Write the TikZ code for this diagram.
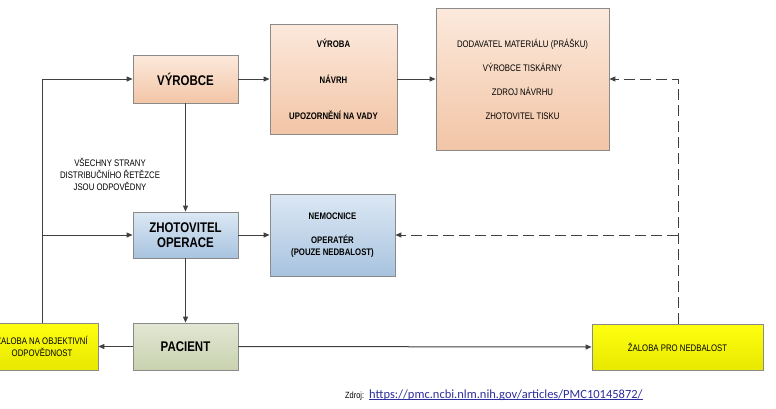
\documentclass[tikz,border=0pt]{standalone}
\usepackage{fontspec}
\setmainfont{Liberation Sans}
\newfontfamily\narfont[FakeStretch=0.82]{Liberation Sans}
\newfontfamily\urlfont{Carlito}
\usetikzlibrary{arrows.meta}
\definecolor{linec}{HTML}{404040}
\definecolor{boxb}{HTML}{8A8A8A}
\definecolor{peachT}{HTML}{FCE9DC}
\definecolor{peachB}{HTML}{F2C5A6}
\definecolor{blueT}{HTML}{DCE8F4}
\definecolor{blueB}{HTML}{A8C3DF}
\definecolor{greenT}{HTML}{E2E7D3}
\definecolor{greenB}{HTML}{C9D2B0}
\definecolor{yelT}{HTML}{FFFF10}
\definecolor{yelB}{HTML}{E8E800}
\definecolor{urlc}{HTML}{2E2E9E}
\tikzset{
  box/.style={draw=boxb, line width=0.8pt, rectangle, inner sep=0pt, align=center, text=black},
  peach/.style={box, top color=peachT, bottom color=peachB},
  blue/.style={box, top color=blueT, bottom color=blueB},
  green/.style={box, top color=greenT, bottom color=greenB},
  yel/.style={box, top color=yelT, bottom color=yelB},
  big/.style={font=\narfont\bfseries\fontsize{14}{15}\selectfont},
  smallb/.style={font=\narfont\bfseries\fontsize{9.5}{12}\selectfont},
  smallr/.style={font=\narfont\fontsize{9.5}{12}\selectfont},
  conn/.style={draw=linec, line width=1pt, -{Triangle[length=6pt,width=5pt]}},
  dconn/.style={conn, dash pattern=on 11pt off 5pt},
}
\begin{document}
\begin{tikzpicture}[x=1pt,y=-1pt]
\useasboundingbox (0,0) rectangle (776,408);
\fill[white] (0,0) rectangle (776,408);
% boxes
\node[peach, big, minimum width=105pt, minimum height=48pt] (vyrobce) at (185.5,79) {VÝROBCE};
\node[peach, smallb, minimum width=127pt, minimum height=110pt] (vyroba) at (333.5,79) {VÝROBA\\[24pt]NÁVRH\\[24pt]UPOZORNĚNÍ NA VADY};
\node[peach, smallr, minimum width=173pt, minimum height=142pt] (dodav) at (522.5,79) {DODAVATEL MATERIÁLU (PRÁŠKU)\\[12pt]VÝROBCE TISKÁRNY\\[12pt]ZDROJ NÁVRHU\\[12pt]ZHOTOVITEL TISKU};
\node[blue, big, minimum width=105pt, minimum height=46pt] (zhot) at (185.5,235) {ZHOTOVITEL\\OPERACE};
\node[blue, smallb, minimum width=125pt, minimum height=82pt] (nemoc) at (332.5,235) {NEMOCNICE\\[12pt]OPERATÉR\\(POUZE NEDBALOST)};
\node[green, big, minimum width=105pt, minimum height=47pt] (pacient) at (185.5,346.5) {PACIENT};
\node[yel, smallr, minimum width=112pt, minimum height=47pt] (zalobaL) at (42,346.5) {ŽALOBA NA OBJEKTIVNÍ\\ODPOVĚDNOST};
\node[yel, smallr, minimum width=171pt, minimum height=46pt] (zalobaR) at (677.5,347) {ŽALOBA PRO NEDBALOST};
% label
\node[smallr, align=center] (lbl) at (110,174) {VŠECHNY STRANY\\DISTRIBUČNÍHO ŘETĚZCE\\JSOU ODPOVĚDNY};
% coordinates
\coordinate (lc) at (42,79);
\coordinate (lz) at (42,235);
\coordinate (dc1) at (678,79);
\coordinate (dc2) at (678,235);
% connectors
\draw[conn] (vyrobce) -- (vyroba);
\draw[conn] (vyroba.east) -- (dodav.west |- vyroba.east);
\draw[conn] (vyrobce) -- (zhot);
\draw[conn] (zhot) -- (pacient);
\draw[conn] (zhot) -- (nemoc);
\draw[conn] (pacient) -- (zalobaL);
\draw[conn] (pacient.east) -- (zalobaR.west);
\draw[conn] (zalobaL.north -| lc) -- (lc) -- (vyrobce.west);
\draw[conn] (lz) -- (zhot.west);
\draw[dconn] (zalobaR.north -| dc1) -- (dc1) -- (dodav.east |- dc1);
\draw[dconn] (dc2) -- (nemoc.east |- dc2);
% source
\node[font=\narfont\fontsize{9}{11}\selectfont, anchor=base west, inner sep=0pt] (zdroj) at (345,398) {Zdroj:};
\node[font=\urlfont\fontsize{12.5}{14}\selectfont, text=urlc, anchor=base west, inner sep=0pt] (url) at (369,398) {https://pmc.ncbi.nlm.nih.gov/articles/PMC10145872/};
\draw[urlc, line width=0.6pt] ([yshift=-1.5pt]url.base west) -- ([yshift=-1.5pt]url.base east);
\end{tikzpicture}
\end{document}
